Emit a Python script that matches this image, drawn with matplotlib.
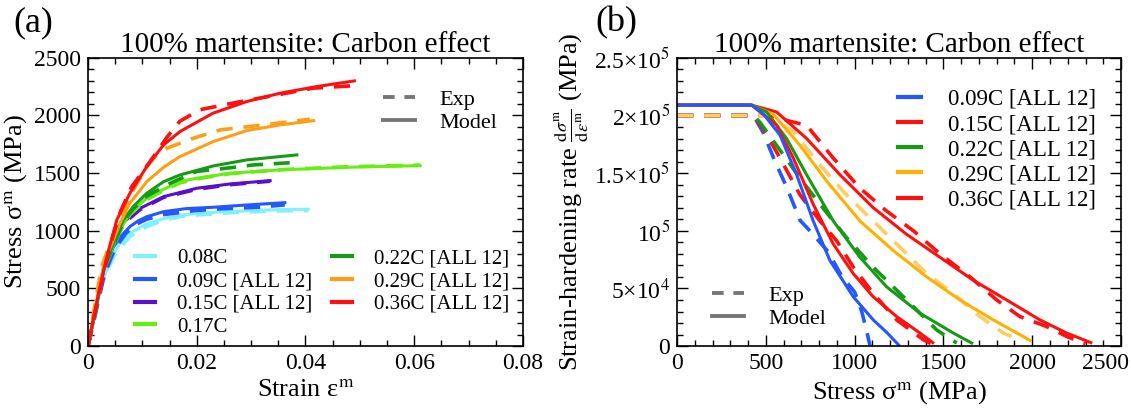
import matplotlib
matplotlib.use("Agg")
import matplotlib.pyplot as plt
from matplotlib.lines import Line2D
from matplotlib.ticker import MultipleLocator, FixedLocator

plt.rcParams['font.family'] = ['Liberation Serif', 'DejaVu Serif']
plt.rcParams['mathtext.fontset'] = 'stix'

# ---- panel (a): stress-strain, (strain, stress MPa) ----
c008_exp_strain = [0, 0.0007, 0.0022, 0.0035, 0.0047, 0.0062, 0.0077, 0.0092, 0.0108, 0.0138, 0.0169, 0.02, 0.023, 0.0261, 0.03, 0.0341, 0.0405]
c008_exp_stress = [0, 139, 486, 650, 775, 870, 949, 1000, 1036, 1090, 1122, 1137, 1146, 1157, 1165, 1172, 1175]
c008_mod_strain = [0, 0.001, 0.002, 0.003, 0.0045, 0.006, 0.0077, 0.0108, 0.0139, 0.0169, 0.02, 0.026, 0.033, 0.0405]
c008_mod_stress = [0, 200, 420, 600, 790, 900, 980, 1060, 1105, 1135, 1150, 1168, 1180, 1188]

c009_mod_strain = [0, 0.001, 0.0028, 0.0047, 0.0062, 0.0077, 0.0092, 0.0108, 0.0139, 0.018, 0.023, 0.0292, 0.0362]
c009_mod_stress = [0, 220, 660, 862, 960, 1036, 1085, 1122, 1166, 1192, 1204, 1224, 1244]
c009_exp_strain = [0, 0.001, 0.003, 0.005, 0.007, 0.009, 0.0108, 0.0139, 0.0194, 0.0243, 0.0316, 0.0362]
c009_exp_stress = [0, 200, 620, 850, 980, 1060, 1100, 1140, 1174, 1190, 1205, 1225]

c015_mod_strain = [0, 0.001, 0.003, 0.005, 0.0065, 0.0077, 0.0096, 0.0139, 0.02, 0.0261, 0.0335]
c015_mod_stress = [0, 230, 680, 950, 1070, 1122, 1195, 1296, 1369, 1406, 1435]
c015_exp_stress = [0, 220, 650, 920, 1050, 1110, 1185, 1290, 1360, 1400, 1430]

c017_mod_strain = [0, 0.001, 0.003, 0.0059, 0.0077, 0.0108, 0.0139, 0.0169, 0.02, 0.0261, 0.0353, 0.0476, 0.0611]
c017_mod_stress = [0, 230, 690, 1007, 1152, 1282, 1360, 1426, 1456, 1499, 1528, 1551, 1565]
c017_exp_stress = [0, 220, 670, 1000, 1140, 1270, 1350, 1415, 1450, 1495, 1530, 1555, 1570]

c022_mod_strain = [0, 0.001, 0.003, 0.0065, 0.0083, 0.0108, 0.0139, 0.0169, 0.023, 0.0292, 0.0384]
c022_mod_stress = [0, 230, 700, 1094, 1209, 1325, 1426, 1484, 1562, 1615, 1658]
c022_exp_strain = [0, 0.001, 0.003, 0.0065, 0.0083, 0.0108, 0.0151, 0.02, 0.0255, 0.0304, 0.0371]
c022_exp_stress = [0, 220, 680, 1080, 1190, 1300, 1412, 1515, 1543, 1571, 1590]

c029_mod_strain = [0, 0.001, 0.003, 0.0059, 0.0077, 0.0108, 0.0139, 0.0169, 0.023, 0.0292, 0.0353, 0.0415]
c029_mod_stress = [0, 250, 730, 1065, 1239, 1426, 1551, 1643, 1773, 1869, 1918, 1955]
c029_exp_strain = [0, 0.001, 0.0025, 0.004, 0.0055, 0.0077, 0.0108, 0.0126, 0.0145, 0.0194, 0.0243, 0.0322, 0.0408]
c029_exp_stress = [0, 280, 690, 880, 1050, 1300, 1556, 1658, 1716, 1803, 1875, 1918, 1968]

c036_mod_strain = [0, 0.001, 0.002, 0.003, 0.004, 0.0053, 0.0077, 0.0108, 0.0139, 0.0169, 0.023, 0.0292, 0.0353, 0.042, 0.049]
c036_mod_stress = [0, 240, 470, 680, 870, 1094, 1325, 1556, 1745, 1860, 2020, 2121, 2193, 2250, 2300]
c036_exp_strain = [0, 0.001, 0.002, 0.004, 0.006, 0.008, 0.0105, 0.0123, 0.0145, 0.0169, 0.0206, 0.028, 0.035, 0.0414, 0.049]
c036_exp_stress = [0, 230, 450, 860, 1170, 1380, 1540, 1660, 1810, 1950, 2050, 2120, 2180, 2237, 2258]

# ---- panel (b): hardening rate vs stress ----
h009_mod_s = [0, 420, 486, 580, 674, 767, 861, 993, 1105, 1180, 1246]
h009_mod_h = [2.09e5, 2.09e5, 2.014e5, 1.83e5, 1.485e5, 1.085e5, 0.742e5, 0.427e5, 0.227e5, 0.12e5, 0.013e5]
h009_exp_s = [0, 430, 486, 552, 617, 693, 760, 850, 930, 1000, 1040, 1065, 1087]
h009_exp_h = [2.0e5, 2.0e5, 1.85e5, 1.6e5, 1.38e5, 1.09e5, 0.98e5, 0.82e5, 0.6e5, 0.47e5, 0.3e5, 0.15e5, 0]

h015_mod_s = [0, 420, 561, 655, 767, 880, 993, 1105, 1237, 1368, 1440]
h015_mod_h = [2.09e5, 2.09e5, 1.915e5, 1.63e5, 1.23e5, 0.885e5, 0.628e5, 0.427e5, 0.256e5, 0.113e5, 0.03e5]
h015_exp_s = [0, 430, 486, 580, 693, 805, 899, 993, 1105, 1237, 1387, 1443]
h015_exp_h = [2.0e5, 2.0e5, 1.885e5, 1.63e5, 1.31e5, 1.085e5, 0.913e5, 0.684e5, 0.456e5, 0.227e5, 0.056e5, 0.01e5]

h022_mod_s = [0, 420, 505, 617, 730, 880, 1030, 1181, 1368, 1556, 1659]
h022_mod_h = [2.09e5, 2.09e5, 2.03e5, 1.8e5, 1.485e5, 1.085e5, 0.77e5, 0.513e5, 0.285e5, 0.113e5, 0.027e5]
h022_exp_s = [0, 430, 467, 561, 693, 805, 955, 1105, 1256, 1368, 1462, 1575]
h022_exp_h = [2.0e5, 2.0e5, 1.94e5, 1.74e5, 1.455e5, 1.23e5, 0.94e5, 0.684e5, 0.456e5, 0.285e5, 0.14e5, 0.027e5]

h029_mod_s = [0, 420, 542, 693, 843, 1030, 1218, 1406, 1593, 1781, 1988]
h029_mod_h = [2.09e5, 2.09e5, 2.01e5, 1.74e5, 1.43e5, 1.085e5, 0.828e5, 0.6e5, 0.4e5, 0.227e5, 0.05e5]
h029_exp_s = [0, 500, 655, 805, 955, 1105, 1256, 1406, 1556, 1706, 1837, 1884]
h029_exp_h = [2.0e5, 2.0e5, 1.86e5, 1.57e5, 1.31e5, 1.085e5, 0.856e5, 0.628e5, 0.456e5, 0.256e5, 0.113e5, 0.084e5]

h036_mod_s = [0, 420, 561, 730, 918, 1105, 1292, 1481, 1669, 1856, 2044, 2194, 2330]
h036_mod_h = [2.09e5, 2.09e5, 2.03e5, 1.8e5, 1.485e5, 1.2e5, 0.97e5, 0.77e5, 0.57e5, 0.4e5, 0.227e5, 0.113e5, 0.03e5]
h036_exp_s = [0, 500, 730, 880, 1030, 1181, 1331, 1481, 1650, 1800, 1931, 2081, 2194, 2300]
h036_exp_h = [2.0e5, 2.0e5, 1.915e5, 1.63e5, 1.37e5, 1.17e5, 1.0e5, 0.8e5, 0.6e5, 0.4e5, 0.256e5, 0.17e5, 0.084e5, 0.02e5]

labels_a = ['0.08C', '0.09C [ALL 12]', '0.15C [ALL 12]', '0.17C',
            '0.22C [ALL 12]', '0.29C [ALL 12]', '0.36C [ALL 12]']
labels_b = ['0.09C [ALL 12]', '0.15C [ALL 12]', '0.22C [ALL 12]',
            '0.29C [ALL 12]', '0.36C [ALL 12]']
xticks_b = [0, 500, 1000, 1500, 2000, 2500]

CYAN, BLUE, PURPLE = '#7FF0FF', '#2457FF', '#5A0FCF'
LGREEN, GREEN, ORANGE, RED = '#66EE11', '#159A15', '#FF9E16', '#FF1010'
ORANGE_B, ORANGE_B_EXP = '#FFB000', '#FFCC66'

LW = 2.2
DASH = (4.5, 3.0)

fig = plt.figure(figsize=(11.31, 4.16), dpi=100)
ax1 = fig.add_axes([0.0778, 0.168, 0.3846, 0.693])
ax2 = fig.add_axes([0.5986, 0.168, 0.3926, 0.693])


def exp_line(ax, x, y, c, **kw):
    ax.plot(x, y, color=c, lw=LW + 0.4, dashes=DASH, **kw)


def mod_line(ax, x, y, c, **kw):
    ax.plot(x, y, color=c, lw=LW, **kw)


# panel (a)
exp_line(ax1, c008_exp_strain, c008_exp_stress, CYAN)
mod_line(ax1, c008_mod_strain, c008_mod_stress, CYAN)
exp_line(ax1, c009_exp_strain, c009_exp_stress, BLUE)
mod_line(ax1, c009_mod_strain, c009_mod_stress, BLUE)
exp_line(ax1, c015_mod_strain, c015_exp_stress, PURPLE)
mod_line(ax1, c015_mod_strain, c015_mod_stress, PURPLE)
exp_line(ax1, c017_mod_strain, c017_exp_stress, LGREEN)
mod_line(ax1, c017_mod_strain, c017_mod_stress, LGREEN)
exp_line(ax1, c022_exp_strain, c022_exp_stress, GREEN)
mod_line(ax1, c022_mod_strain, c022_mod_stress, GREEN)
exp_line(ax1, c029_exp_strain, c029_exp_stress, ORANGE)
mod_line(ax1, c029_mod_strain, c029_mod_stress, ORANGE)
exp_line(ax1, c036_exp_strain, c036_exp_stress, RED)
mod_line(ax1, c036_mod_strain, c036_mod_stress, RED)

# panel (b)
exp_line(ax2, h009_exp_s, h009_exp_h, BLUE)
exp_line(ax2, h015_exp_s, h015_exp_h, RED)
exp_line(ax2, h022_exp_s, h022_exp_h, GREEN)
exp_line(ax2, h036_exp_s, h036_exp_h, RED)
exp_line(ax2, h029_exp_s, h029_exp_h, ORANGE_B_EXP)
mod_line(ax2, h036_mod_s, h036_mod_h, RED)
mod_line(ax2, h029_mod_s, h029_mod_h, ORANGE_B)
mod_line(ax2, h022_mod_s, h022_mod_h, GREEN)
mod_line(ax2, h015_mod_s, h015_mod_h, RED)
mod_line(ax2, h009_mod_s, h009_mod_h, BLUE)

# axes styling
for ax in (ax1, ax2):
    ax.tick_params(which='both', direction='in', top=True, right=True,
                   labelsize=17, width=1.0)
    ax.tick_params(which='major', length=8, pad=5)
    ax.tick_params(which='minor', length=4)
    for sp in ax.spines.values():
        sp.set_linewidth(1.2)
    ax.set_title('100% martensite: Carbon effect', fontsize=21, pad=4)

ax1.set_xlim(0, 0.08)
ax1.set_ylim(0, 2500)
ax1.xaxis.set_minor_locator(MultipleLocator(0.005))
ax1.yaxis.set_major_locator(MultipleLocator(500))
ax1.yaxis.set_minor_locator(MultipleLocator(100))
ax1.set_xticks([0, 0.02, 0.04, 0.06, 0.08])
ax1.set_xticklabels(['0', '0.02', '0.04', '0.06', '0.08'])
ax1.set_xlabel('Strain ε$^{\\mathrm{m}}$', fontsize=19, labelpad=4)
ax1.set_ylabel('Stress σ$^{\\mathrm{m}}$ (MPa)', fontsize=19, labelpad=3)

ax2.set_xlim(0, 2500)
ax2.set_ylim(0, 2.5e5)
ax2.set_xticks(xticks_b)
# the last label sits at the figure edge, it is drawn separately below
ax2.set_xticklabels([str(v) for v in xticks_b[:-1]] + [''])
ax2.annotate(str(xticks_b[-1]), xy=(1, 0), xycoords='axes fraction',
             xytext=(6, -5), textcoords='offset points', ha='right', va='top',
             fontsize=17)
ax2.xaxis.set_minor_locator(MultipleLocator(100))
ax2.yaxis.set_major_locator(FixedLocator([0, 5e4, 1e5, 1.5e5, 2e5, 2.5e5]))
ax2.yaxis.set_minor_locator(MultipleLocator(1e4))
ax2.set_yticklabels(['0', '5×10$^4$', '10$^5$', '1.5×10$^5$', '2×10$^5$', '2.5×10$^5$'])
ax2.set_xlabel('Stress σ$^{\\mathrm{m}}$ (MPa)', fontsize=19, labelpad=4)
ax2.set_ylabel('Strain-hardening rate '
               '$\\frac{\\mathrm{d}\\sigma^{\\mathrm{m}}}{\\mathrm{d}\\varepsilon^{\\mathrm{m}}}$ (MPa)',
               fontsize=19, labelpad=2)

# legends
GREY = '#777777'


def style_legend(ax, anchor):
    hs = [Line2D([], [], color=GREY, lw=LW + 0.6, dashes=(3, 2.5)),
          Line2D([], [], color=GREY, lw=LW + 0.6)]
    lg = ax.legend(hs, ['Exp', 'Model'], loc='upper left', bbox_to_anchor=anchor,
                   frameon=False, fontsize=16, handlelength=1.45,
                   handletextpad=1.1, labelspacing=0.1)
    ax.add_artist(lg)


style_legend(ax1, (0.632, 0.96))
style_legend(ax2, (0.034, 0.28))

cols_a = [CYAN, BLUE, PURPLE, LGREEN, GREEN, ORANGE, RED]
h_a = [Line2D([], [], color=c, lw=LW + 0.8) for c in cols_a]
ax1.legend(h_a, labels_a, loc='upper left', bbox_to_anchor=(0.099, 0.352),
           ncol=2, frameon=False, fontsize=15, handlelength=0.96,
           handletextpad=1.05, labelspacing=0.15, columnspacing=0.95,
           borderpad=0.2, borderaxespad=0)

cols_b = [BLUE, RED, GREEN, ORANGE_B, RED]
h_b = [Line2D([], [], color=c, lw=LW + 0.8) for c in cols_b]
ax2.legend(h_b, labels_b, loc='upper left', bbox_to_anchor=(0.487, 0.908),
           frameon=False, fontsize=16.5, handlelength=1.0, handletextpad=1.2,
           labelspacing=0.18, borderpad=0.2, borderaxespad=0)

fig.text(0.012, 0.985, '(a)', fontsize=26, va='top', ha='left')
fig.text(0.526, 0.985, '(b)', fontsize=26, va='top', ha='left')

fig.savefig('out.png', dpi=100)
